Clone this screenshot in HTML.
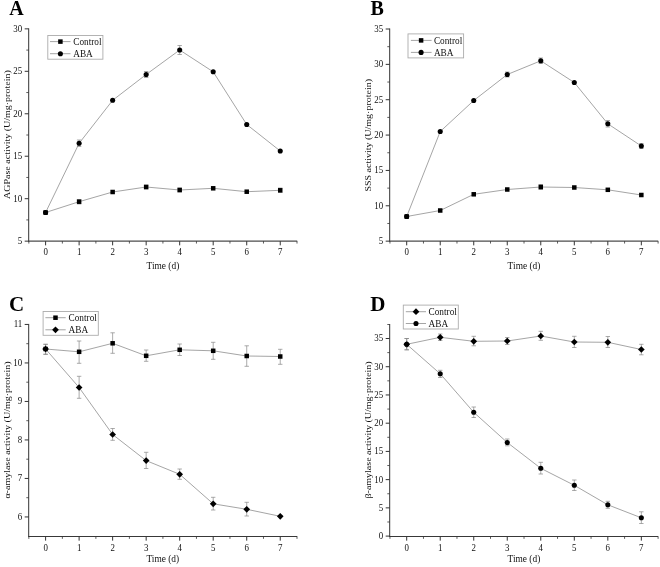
<!DOCTYPE html>
<html lang="en">
<head>
<meta charset="utf-8">
<title>Enzyme activity time courses: Control vs ABA</title>
<style>
html,body{margin:0;padding:0;background:#fff;}
body{width:660px;height:567px;overflow:hidden;}
svg{display:block;font-family:"Liberation Serif", "DejaVu Serif", serif;will-change:transform;filter:grayscale(1);}
</style>
</head>
<body>
<svg width="660" height="567" viewBox="0 0 660 567">
<rect width="660" height="567" fill="#fff"/>
<g stroke="#333333" stroke-width="1" fill="none" shape-rendering="auto">
<line x1="28.7" y1="28.35" x2="28.7" y2="241.65"/>
<line x1="28.2" y1="241.15" x2="297.2" y2="241.15" stroke="#4d4d4d" stroke-width="1.25"/>
<line x1="45.6" y1="241.15" x2="45.6" y2="245.35"/>
<line x1="79.12" y1="241.15" x2="79.12" y2="245.35"/>
<line x1="112.64" y1="241.15" x2="112.64" y2="245.35"/>
<line x1="146.16" y1="241.15" x2="146.16" y2="245.35"/>
<line x1="179.68" y1="241.15" x2="179.68" y2="245.35"/>
<line x1="213.2" y1="241.15" x2="213.2" y2="245.35"/>
<line x1="246.72" y1="241.15" x2="246.72" y2="245.35"/>
<line x1="280.24" y1="241.15" x2="280.24" y2="245.35"/>
<line x1="28.84" y1="241.15" x2="28.84" y2="243.55" stroke-width="0.8"/>
<line x1="62.36" y1="241.15" x2="62.36" y2="243.55" stroke-width="0.8"/>
<line x1="95.88" y1="241.15" x2="95.88" y2="243.55" stroke-width="0.8"/>
<line x1="129.4" y1="241.15" x2="129.4" y2="243.55" stroke-width="0.8"/>
<line x1="162.92" y1="241.15" x2="162.92" y2="243.55" stroke-width="0.8"/>
<line x1="196.44" y1="241.15" x2="196.44" y2="243.55" stroke-width="0.8"/>
<line x1="229.96" y1="241.15" x2="229.96" y2="243.55" stroke-width="0.8"/>
<line x1="263.48" y1="241.15" x2="263.48" y2="243.55" stroke-width="0.8"/>
<line x1="297" y1="241.15" x2="297" y2="243.55" stroke-width="0.8"/>
<line x1="28.7" y1="241.15" x2="24.7" y2="241.15"/>
<line x1="28.7" y1="198.69" x2="24.7" y2="198.69"/>
<line x1="28.7" y1="156.23" x2="24.7" y2="156.23"/>
<line x1="28.7" y1="113.77" x2="24.7" y2="113.77"/>
<line x1="28.7" y1="71.31" x2="24.7" y2="71.31"/>
<line x1="28.7" y1="28.85" x2="24.7" y2="28.85"/>
<line x1="28.7" y1="219.92" x2="26.3" y2="219.92" stroke-width="0.8"/>
<line x1="28.7" y1="177.46" x2="26.3" y2="177.46" stroke-width="0.8"/>
<line x1="28.7" y1="135" x2="26.3" y2="135" stroke-width="0.8"/>
<line x1="28.7" y1="92.54" x2="26.3" y2="92.54" stroke-width="0.8"/>
<line x1="28.7" y1="50.08" x2="26.3" y2="50.08" stroke-width="0.8"/>
</g>
<g font-size="10.1" fill="#111">
<text transform="translate(45.6,255.2) scale(0.88,1)" text-anchor="middle">0</text>
<text transform="translate(79.12,255.2) scale(0.88,1)" text-anchor="middle">1</text>
<text transform="translate(112.64,255.2) scale(0.88,1)" text-anchor="middle">2</text>
<text transform="translate(146.16,255.2) scale(0.88,1)" text-anchor="middle">3</text>
<text transform="translate(179.68,255.2) scale(0.88,1)" text-anchor="middle">4</text>
<text transform="translate(213.2,255.2) scale(0.88,1)" text-anchor="middle">5</text>
<text transform="translate(246.72,255.2) scale(0.88,1)" text-anchor="middle">6</text>
<text transform="translate(280.24,255.2) scale(0.88,1)" text-anchor="middle">7</text>
<text transform="translate(22.2,244.05) scale(0.88,1)" text-anchor="end">5</text>
<text transform="translate(22.2,201.59) scale(0.88,1)" text-anchor="end">10</text>
<text transform="translate(22.2,159.13) scale(0.88,1)" text-anchor="end">15</text>
<text transform="translate(22.2,116.67) scale(0.88,1)" text-anchor="end">20</text>
<text transform="translate(22.2,74.21) scale(0.88,1)" text-anchor="end">25</text>
<text transform="translate(22.2,31.75) scale(0.88,1)" text-anchor="end">30</text>
<text transform="translate(162.9,268.7) scale(0.93,1)" text-anchor="middle">Time (d)</text>
<text transform="translate(9.9,134.6) scale(0.92,1) rotate(-90)" text-anchor="middle" font-size="10">AGPase activity (U/mg·protein)</text>
</g>
<g stroke="#878787" stroke-width="0.7" fill="none">
<path d="M79.12 199.5V204M76.92 199.5H81.32M76.92 204H81.32"/>
<path d="M146.16 185V189M143.96 185H148.36M143.96 189H148.36"/>
<path d="M179.68 188V192M177.48 188H181.88M177.48 192H181.88"/>
<path d="M280.24 188V192.5M278.04 188H282.44M278.04 192.5H282.44"/>
</g>
<polyline fill="none" stroke="#7e7e7e" stroke-width="0.7" points="45.6,212.5 79.12,201.7 112.64,192 146.16,187 179.68,190 213.2,188.3 246.72,191.7 280.24,190.3"/>
<rect x="43.35" y="210.25" width="4.5" height="4.5" fill="#000"/>
<rect x="76.87" y="199.45" width="4.5" height="4.5" fill="#000"/>
<rect x="110.39" y="189.75" width="4.5" height="4.5" fill="#000"/>
<rect x="143.91" y="184.75" width="4.5" height="4.5" fill="#000"/>
<rect x="177.43" y="187.75" width="4.5" height="4.5" fill="#000"/>
<rect x="210.95" y="186.05" width="4.5" height="4.5" fill="#000"/>
<rect x="244.47" y="189.45" width="4.5" height="4.5" fill="#000"/>
<rect x="277.99" y="188.05" width="4.5" height="4.5" fill="#000"/>
<g stroke="#878787" stroke-width="0.7" fill="none">
<path d="M79.12 140V146.5M76.92 140H81.32M76.92 146.5H81.32"/>
<path d="M146.16 71.5V77.5M143.96 71.5H148.36M143.96 77.5H148.36"/>
<path d="M179.68 45.5V54.5M177.48 45.5H181.88M177.48 54.5H181.88"/>
</g>
<polyline fill="none" stroke="#7e7e7e" stroke-width="0.7" points="45.6,212.5 79.12,143.3 112.64,100.3 146.16,74.5 179.68,50 213.2,71.8 246.72,124.5 280.24,151"/>
<circle cx="45.6" cy="212.5" r="2.55" fill="#000"/>
<circle cx="79.12" cy="143.3" r="2.55" fill="#000"/>
<circle cx="112.64" cy="100.3" r="2.55" fill="#000"/>
<circle cx="146.16" cy="74.5" r="2.55" fill="#000"/>
<circle cx="179.68" cy="50" r="2.55" fill="#000"/>
<circle cx="213.2" cy="71.8" r="2.55" fill="#000"/>
<circle cx="246.72" cy="124.5" r="2.55" fill="#000"/>
<circle cx="280.24" cy="151" r="2.55" fill="#000"/>
<rect x="47.8" y="35.5" width="55.1" height="23.7" fill="#fff" stroke="#acacac" stroke-width="0.9"/>
<line x1="50" y1="41.6" x2="70.5" y2="41.6" stroke="#7e7e7e" stroke-width="0.7"/>
<rect x="58.15" y="39.35" width="4.5" height="4.5" fill="#000"/>
<text transform="translate(73.2,45) scale(0.92,1)" text-anchor="start" font-size="10.1" fill="#111">Control</text>
<line x1="50" y1="53.7" x2="70.5" y2="53.7" stroke="#7e7e7e" stroke-width="0.7"/>
<circle cx="60.4" cy="53.7" r="2.55" fill="#000"/>
<text transform="translate(73.2,56.8) scale(0.92,1)" text-anchor="start" font-size="10.1" fill="#111">ABA</text>
<text x="9.3" y="15.2" font-size="20" font-weight="bold" fill="#000">A</text>
<g stroke="#333333" stroke-width="1" fill="none" shape-rendering="auto">
<line x1="389.7" y1="28.5" x2="389.7" y2="241.65"/>
<line x1="389.2" y1="241.15" x2="658.2" y2="241.15" stroke="#4d4d4d" stroke-width="1.25"/>
<line x1="406.7" y1="241.15" x2="406.7" y2="245.35"/>
<line x1="440.22" y1="241.15" x2="440.22" y2="245.35"/>
<line x1="473.74" y1="241.15" x2="473.74" y2="245.35"/>
<line x1="507.26" y1="241.15" x2="507.26" y2="245.35"/>
<line x1="540.78" y1="241.15" x2="540.78" y2="245.35"/>
<line x1="574.3" y1="241.15" x2="574.3" y2="245.35"/>
<line x1="607.82" y1="241.15" x2="607.82" y2="245.35"/>
<line x1="641.34" y1="241.15" x2="641.34" y2="245.35"/>
<line x1="389.94" y1="241.15" x2="389.94" y2="243.55" stroke-width="0.8"/>
<line x1="423.46" y1="241.15" x2="423.46" y2="243.55" stroke-width="0.8"/>
<line x1="456.98" y1="241.15" x2="456.98" y2="243.55" stroke-width="0.8"/>
<line x1="490.5" y1="241.15" x2="490.5" y2="243.55" stroke-width="0.8"/>
<line x1="524.02" y1="241.15" x2="524.02" y2="243.55" stroke-width="0.8"/>
<line x1="557.54" y1="241.15" x2="557.54" y2="243.55" stroke-width="0.8"/>
<line x1="591.06" y1="241.15" x2="591.06" y2="243.55" stroke-width="0.8"/>
<line x1="624.58" y1="241.15" x2="624.58" y2="243.55" stroke-width="0.8"/>
<line x1="658.1" y1="241.15" x2="658.1" y2="243.55" stroke-width="0.8"/>
<line x1="389.7" y1="241.15" x2="385.7" y2="241.15"/>
<line x1="389.7" y1="205.79" x2="385.7" y2="205.79"/>
<line x1="389.7" y1="170.43" x2="385.7" y2="170.43"/>
<line x1="389.7" y1="135.07" x2="385.7" y2="135.07"/>
<line x1="389.7" y1="99.72" x2="385.7" y2="99.72"/>
<line x1="389.7" y1="64.36" x2="385.7" y2="64.36"/>
<line x1="389.7" y1="29" x2="385.7" y2="29"/>
<line x1="389.7" y1="223.47" x2="387.3" y2="223.47" stroke-width="0.8"/>
<line x1="389.7" y1="188.11" x2="387.3" y2="188.11" stroke-width="0.8"/>
<line x1="389.7" y1="152.75" x2="387.3" y2="152.75" stroke-width="0.8"/>
<line x1="389.7" y1="117.4" x2="387.3" y2="117.4" stroke-width="0.8"/>
<line x1="389.7" y1="82.04" x2="387.3" y2="82.04" stroke-width="0.8"/>
<line x1="389.7" y1="46.68" x2="387.3" y2="46.68" stroke-width="0.8"/>
</g>
<g font-size="10.1" fill="#111">
<text transform="translate(406.7,255.2) scale(0.88,1)" text-anchor="middle">0</text>
<text transform="translate(440.22,255.2) scale(0.88,1)" text-anchor="middle">1</text>
<text transform="translate(473.74,255.2) scale(0.88,1)" text-anchor="middle">2</text>
<text transform="translate(507.26,255.2) scale(0.88,1)" text-anchor="middle">3</text>
<text transform="translate(540.78,255.2) scale(0.88,1)" text-anchor="middle">4</text>
<text transform="translate(574.3,255.2) scale(0.88,1)" text-anchor="middle">5</text>
<text transform="translate(607.82,255.2) scale(0.88,1)" text-anchor="middle">6</text>
<text transform="translate(641.34,255.2) scale(0.88,1)" text-anchor="middle">7</text>
<text transform="translate(383.2,244.05) scale(0.88,1)" text-anchor="end">5</text>
<text transform="translate(383.2,208.69) scale(0.88,1)" text-anchor="end">10</text>
<text transform="translate(383.2,173.33) scale(0.88,1)" text-anchor="end">15</text>
<text transform="translate(383.2,137.97) scale(0.88,1)" text-anchor="end">20</text>
<text transform="translate(383.2,102.62) scale(0.88,1)" text-anchor="end">25</text>
<text transform="translate(383.2,67.26) scale(0.88,1)" text-anchor="end">30</text>
<text transform="translate(383.2,31.9) scale(0.88,1)" text-anchor="end">35</text>
<text transform="translate(524,268.7) scale(0.93,1)" text-anchor="middle">Time (d)</text>
<text transform="translate(371.2,135.3) scale(0.92,1) rotate(-90)" text-anchor="middle" font-size="10">SSS activity (U/mg·protein)</text>
</g>
<g stroke="#878787" stroke-width="0.7" fill="none">
<path d="M540.78 184.5V189.5M538.58 184.5H542.98M538.58 189.5H542.98"/>
</g>
<polyline fill="none" stroke="#7e7e7e" stroke-width="0.7" points="406.7,216.5 440.22,210.5 473.74,194.3 507.26,189.5 540.78,187 574.3,187.5 607.82,189.8 641.34,195"/>
<rect x="404.45" y="214.25" width="4.5" height="4.5" fill="#000"/>
<rect x="437.97" y="208.25" width="4.5" height="4.5" fill="#000"/>
<rect x="471.49" y="192.05" width="4.5" height="4.5" fill="#000"/>
<rect x="505.01" y="187.25" width="4.5" height="4.5" fill="#000"/>
<rect x="538.53" y="184.75" width="4.5" height="4.5" fill="#000"/>
<rect x="572.05" y="185.25" width="4.5" height="4.5" fill="#000"/>
<rect x="605.57" y="187.55" width="4.5" height="4.5" fill="#000"/>
<rect x="639.09" y="192.75" width="4.5" height="4.5" fill="#000"/>
<g stroke="#878787" stroke-width="0.7" fill="none">
<path d="M507.26 72V77M505.06 72H509.46M505.06 77H509.46"/>
<path d="M540.78 58V63.5M538.58 58H542.98M538.58 63.5H542.98"/>
<path d="M607.82 120.5V127M605.62 120.5H610.02M605.62 127H610.02"/>
<path d="M641.34 143.5V148.5M639.14 143.5H643.54M639.14 148.5H643.54"/>
</g>
<polyline fill="none" stroke="#7e7e7e" stroke-width="0.7" points="406.7,216.5 440.22,131.5 473.74,100.5 507.26,74.5 540.78,60.8 574.3,82.5 607.82,123.8 641.34,146"/>
<circle cx="406.7" cy="216.5" r="2.55" fill="#000"/>
<circle cx="440.22" cy="131.5" r="2.55" fill="#000"/>
<circle cx="473.74" cy="100.5" r="2.55" fill="#000"/>
<circle cx="507.26" cy="74.5" r="2.55" fill="#000"/>
<circle cx="540.78" cy="60.8" r="2.55" fill="#000"/>
<circle cx="574.3" cy="82.5" r="2.55" fill="#000"/>
<circle cx="607.82" cy="123.8" r="2.55" fill="#000"/>
<circle cx="641.34" cy="146" r="2.55" fill="#000"/>
<rect x="408" y="33.9" width="55.6" height="24" fill="#fff" stroke="#acacac" stroke-width="0.9"/>
<line x1="410.9" y1="40.4" x2="431.6" y2="40.4" stroke="#7e7e7e" stroke-width="0.7"/>
<rect x="418.85" y="38.15" width="4.5" height="4.5" fill="#000"/>
<text transform="translate(433.9,43.9) scale(0.92,1)" text-anchor="start" font-size="10.1" fill="#111">Control</text>
<line x1="410.9" y1="52.4" x2="431.6" y2="52.4" stroke="#7e7e7e" stroke-width="0.7"/>
<circle cx="421.1" cy="52.4" r="2.55" fill="#000"/>
<text transform="translate(433.9,55.7) scale(0.92,1)" text-anchor="start" font-size="10.1" fill="#111">ABA</text>
<text x="370.6" y="15.2" font-size="20" font-weight="bold" fill="#000">B</text>
<g stroke="#333333" stroke-width="1" fill="none" shape-rendering="auto">
<line x1="28.7" y1="323.95" x2="28.7" y2="536.95"/>
<line x1="28.2" y1="536.45" x2="297.2" y2="536.45" stroke="#383838" stroke-width="1.05"/>
<line x1="45.6" y1="536.45" x2="45.6" y2="540.65"/>
<line x1="79.12" y1="536.45" x2="79.12" y2="540.65"/>
<line x1="112.64" y1="536.45" x2="112.64" y2="540.65"/>
<line x1="146.16" y1="536.45" x2="146.16" y2="540.65"/>
<line x1="179.68" y1="536.45" x2="179.68" y2="540.65"/>
<line x1="213.2" y1="536.45" x2="213.2" y2="540.65"/>
<line x1="246.72" y1="536.45" x2="246.72" y2="540.65"/>
<line x1="280.24" y1="536.45" x2="280.24" y2="540.65"/>
<line x1="28.84" y1="536.45" x2="28.84" y2="538.85" stroke-width="0.8"/>
<line x1="62.36" y1="536.45" x2="62.36" y2="538.85" stroke-width="0.8"/>
<line x1="95.88" y1="536.45" x2="95.88" y2="538.85" stroke-width="0.8"/>
<line x1="129.4" y1="536.45" x2="129.4" y2="538.85" stroke-width="0.8"/>
<line x1="162.92" y1="536.45" x2="162.92" y2="538.85" stroke-width="0.8"/>
<line x1="196.44" y1="536.45" x2="196.44" y2="538.85" stroke-width="0.8"/>
<line x1="229.96" y1="536.45" x2="229.96" y2="538.85" stroke-width="0.8"/>
<line x1="263.48" y1="536.45" x2="263.48" y2="538.85" stroke-width="0.8"/>
<line x1="297" y1="536.45" x2="297" y2="538.85" stroke-width="0.8"/>
<line x1="28.7" y1="516.95" x2="24.7" y2="516.95"/>
<line x1="28.7" y1="478.45" x2="24.7" y2="478.45"/>
<line x1="28.7" y1="439.95" x2="24.7" y2="439.95"/>
<line x1="28.7" y1="401.45" x2="24.7" y2="401.45"/>
<line x1="28.7" y1="362.95" x2="24.7" y2="362.95"/>
<line x1="28.7" y1="324.45" x2="24.7" y2="324.45"/>
<line x1="28.7" y1="497.7" x2="26.3" y2="497.7" stroke-width="0.8"/>
<line x1="28.7" y1="459.2" x2="26.3" y2="459.2" stroke-width="0.8"/>
<line x1="28.7" y1="420.7" x2="26.3" y2="420.7" stroke-width="0.8"/>
<line x1="28.7" y1="382.2" x2="26.3" y2="382.2" stroke-width="0.8"/>
<line x1="28.7" y1="343.7" x2="26.3" y2="343.7" stroke-width="0.8"/>
</g>
<g font-size="10.1" fill="#111">
<text transform="translate(45.6,550.7) scale(0.88,1)" text-anchor="middle">0</text>
<text transform="translate(79.12,550.7) scale(0.88,1)" text-anchor="middle">1</text>
<text transform="translate(112.64,550.7) scale(0.88,1)" text-anchor="middle">2</text>
<text transform="translate(146.16,550.7) scale(0.88,1)" text-anchor="middle">3</text>
<text transform="translate(179.68,550.7) scale(0.88,1)" text-anchor="middle">4</text>
<text transform="translate(213.2,550.7) scale(0.88,1)" text-anchor="middle">5</text>
<text transform="translate(246.72,550.7) scale(0.88,1)" text-anchor="middle">6</text>
<text transform="translate(280.24,550.7) scale(0.88,1)" text-anchor="middle">7</text>
<text transform="translate(22.2,519.85) scale(0.88,1)" text-anchor="end">6</text>
<text transform="translate(22.2,481.35) scale(0.88,1)" text-anchor="end">7</text>
<text transform="translate(22.2,442.85) scale(0.88,1)" text-anchor="end">8</text>
<text transform="translate(22.2,404.35) scale(0.88,1)" text-anchor="end">9</text>
<text transform="translate(22.2,365.85) scale(0.88,1)" text-anchor="end">10</text>
<text transform="translate(22.2,327.35) scale(0.88,1)" text-anchor="end">11</text>
<text transform="translate(162.8,562.2) scale(0.93,1)" text-anchor="middle">Time (d)</text>
<text transform="translate(9.9,430) scale(0.92,1) rotate(-90)" text-anchor="middle" font-size="10">α-amylase activity (U/mg·protein)</text>
</g>
<g stroke="#878787" stroke-width="0.7" fill="none">
<path d="M45.6 344.3V354.3M43.4 344.3H47.8M43.4 354.3H47.8"/>
<path d="M79.12 341V363.3M76.92 341H81.32M76.92 363.3H81.32"/>
<path d="M112.64 332.8V353.3M110.44 332.8H114.84M110.44 353.3H114.84"/>
<path d="M146.16 350V361.3M143.96 350H148.36M143.96 361.3H148.36"/>
<path d="M179.68 344V355.5M177.48 344H181.88M177.48 355.5H181.88"/>
<path d="M213.2 342.3V359.3M211 342.3H215.4M211 359.3H215.4"/>
<path d="M246.72 345.8V366.3M244.52 345.8H248.92M244.52 366.3H248.92"/>
<path d="M280.24 349.3V364.3M278.04 349.3H282.44M278.04 364.3H282.44"/>
</g>
<polyline fill="none" stroke="#7e7e7e" stroke-width="0.7" points="45.6,349 79.12,351.8 112.64,343.3 146.16,355.8 179.68,349.8 213.2,350.8 246.72,356 280.24,356.5"/>
<rect x="43.35" y="346.75" width="4.5" height="4.5" fill="#000"/>
<rect x="76.87" y="349.55" width="4.5" height="4.5" fill="#000"/>
<rect x="110.39" y="341.05" width="4.5" height="4.5" fill="#000"/>
<rect x="143.91" y="353.55" width="4.5" height="4.5" fill="#000"/>
<rect x="177.43" y="347.55" width="4.5" height="4.5" fill="#000"/>
<rect x="210.95" y="348.55" width="4.5" height="4.5" fill="#000"/>
<rect x="244.47" y="353.75" width="4.5" height="4.5" fill="#000"/>
<rect x="277.99" y="354.25" width="4.5" height="4.5" fill="#000"/>
<g stroke="#878787" stroke-width="0.7" fill="none">
<path d="M45.6 344.3V354.3M43.4 344.3H47.8M43.4 354.3H47.8"/>
<path d="M79.12 376.3V398.3M76.92 376.3H81.32M76.92 398.3H81.32"/>
<path d="M112.64 428.5V440.3M110.44 428.5H114.84M110.44 440.3H114.84"/>
<path d="M146.16 452.3V468.5M143.96 452.3H148.36M143.96 468.5H148.36"/>
<path d="M179.68 469V479.3M177.48 469H181.88M177.48 479.3H181.88"/>
<path d="M213.2 497.3V510M211 497.3H215.4M211 510H215.4"/>
<path d="M246.72 502.3V516M244.52 502.3H248.92M244.52 516H248.92"/>
</g>
<polyline fill="none" stroke="#7e7e7e" stroke-width="0.7" points="45.6,349 79.12,387.5 112.64,434.5 146.16,460.6 179.68,474.3 213.2,503.8 246.72,509.3 280.24,516.3"/>
<polygon points="45.6,345.65 48.95,349 45.6,352.35 42.25,349" fill="#000"/>
<polygon points="79.12,384.15 82.47,387.5 79.12,390.85 75.77,387.5" fill="#000"/>
<polygon points="112.64,431.15 115.99,434.5 112.64,437.85 109.29,434.5" fill="#000"/>
<polygon points="146.16,457.25 149.51,460.6 146.16,463.95 142.81,460.6" fill="#000"/>
<polygon points="179.68,470.95 183.03,474.3 179.68,477.65 176.33,474.3" fill="#000"/>
<polygon points="213.2,500.45 216.55,503.8 213.2,507.15 209.85,503.8" fill="#000"/>
<polygon points="246.72,505.95 250.07,509.3 246.72,512.65 243.37,509.3" fill="#000"/>
<polygon points="280.24,512.95 283.59,516.3 280.24,519.65 276.89,516.3" fill="#000"/>
<rect x="43.1" y="311.5" width="55.2" height="23.8" fill="#fff" stroke="#acacac" stroke-width="0.9"/>
<line x1="45.4" y1="317.7" x2="65.7" y2="317.7" stroke="#7e7e7e" stroke-width="0.7"/>
<rect x="53.25" y="315.45" width="4.5" height="4.5" fill="#000"/>
<text transform="translate(68.5,321.1) scale(0.92,1)" text-anchor="start" font-size="10.1" fill="#111">Control</text>
<line x1="45.4" y1="329.8" x2="65.7" y2="329.8" stroke="#7e7e7e" stroke-width="0.7"/>
<polygon points="55.5,326.45 58.85,329.8 55.5,333.15 52.15,329.8" fill="#000"/>
<text transform="translate(68.5,333.3) scale(0.92,1)" text-anchor="start" font-size="10.1" fill="#111">ABA</text>
<text x="9.1" y="311" font-size="21" font-weight="bold" fill="#000">C</text>
<g stroke="#333333" stroke-width="1" fill="none" shape-rendering="auto">
<line x1="389.7" y1="324" x2="389.7" y2="536.95"/>
<line x1="389.2" y1="536.45" x2="658.2" y2="536.45" stroke="#383838" stroke-width="1.05"/>
<line x1="406.7" y1="536.45" x2="406.7" y2="540.65"/>
<line x1="440.22" y1="536.45" x2="440.22" y2="540.65"/>
<line x1="473.74" y1="536.45" x2="473.74" y2="540.65"/>
<line x1="507.26" y1="536.45" x2="507.26" y2="540.65"/>
<line x1="540.78" y1="536.45" x2="540.78" y2="540.65"/>
<line x1="574.3" y1="536.45" x2="574.3" y2="540.65"/>
<line x1="607.82" y1="536.45" x2="607.82" y2="540.65"/>
<line x1="641.34" y1="536.45" x2="641.34" y2="540.65"/>
<line x1="389.94" y1="536.45" x2="389.94" y2="538.85" stroke-width="0.8"/>
<line x1="423.46" y1="536.45" x2="423.46" y2="538.85" stroke-width="0.8"/>
<line x1="456.98" y1="536.45" x2="456.98" y2="538.85" stroke-width="0.8"/>
<line x1="490.5" y1="536.45" x2="490.5" y2="538.85" stroke-width="0.8"/>
<line x1="524.02" y1="536.45" x2="524.02" y2="538.85" stroke-width="0.8"/>
<line x1="557.54" y1="536.45" x2="557.54" y2="538.85" stroke-width="0.8"/>
<line x1="591.06" y1="536.45" x2="591.06" y2="538.85" stroke-width="0.8"/>
<line x1="624.58" y1="536.45" x2="624.58" y2="538.85" stroke-width="0.8"/>
<line x1="658.1" y1="536.45" x2="658.1" y2="538.85" stroke-width="0.8"/>
<line x1="389.7" y1="536.1" x2="385.7" y2="536.1"/>
<line x1="389.7" y1="507.87" x2="385.7" y2="507.87"/>
<line x1="389.7" y1="479.64" x2="385.7" y2="479.64"/>
<line x1="389.7" y1="451.41" x2="385.7" y2="451.41"/>
<line x1="389.7" y1="423.19" x2="385.7" y2="423.19"/>
<line x1="389.7" y1="394.96" x2="385.7" y2="394.96"/>
<line x1="389.7" y1="366.73" x2="385.7" y2="366.73"/>
<line x1="389.7" y1="338.5" x2="385.7" y2="338.5"/>
<line x1="389.7" y1="521.99" x2="387.3" y2="521.99" stroke-width="0.8"/>
<line x1="389.7" y1="493.76" x2="387.3" y2="493.76" stroke-width="0.8"/>
<line x1="389.7" y1="465.53" x2="387.3" y2="465.53" stroke-width="0.8"/>
<line x1="389.7" y1="437.3" x2="387.3" y2="437.3" stroke-width="0.8"/>
<line x1="389.7" y1="409.07" x2="387.3" y2="409.07" stroke-width="0.8"/>
<line x1="389.7" y1="380.84" x2="387.3" y2="380.84" stroke-width="0.8"/>
<line x1="389.7" y1="352.61" x2="387.3" y2="352.61" stroke-width="0.8"/>
<line x1="389.7" y1="324.5" x2="387.3" y2="324.5" stroke-width="0.8"/>
</g>
<g font-size="10.1" fill="#111">
<text transform="translate(406.7,550.7) scale(0.88,1)" text-anchor="middle">0</text>
<text transform="translate(440.22,550.7) scale(0.88,1)" text-anchor="middle">1</text>
<text transform="translate(473.74,550.7) scale(0.88,1)" text-anchor="middle">2</text>
<text transform="translate(507.26,550.7) scale(0.88,1)" text-anchor="middle">3</text>
<text transform="translate(540.78,550.7) scale(0.88,1)" text-anchor="middle">4</text>
<text transform="translate(574.3,550.7) scale(0.88,1)" text-anchor="middle">5</text>
<text transform="translate(607.82,550.7) scale(0.88,1)" text-anchor="middle">6</text>
<text transform="translate(641.34,550.7) scale(0.88,1)" text-anchor="middle">7</text>
<text transform="translate(383.2,539) scale(0.88,1)" text-anchor="end">0</text>
<text transform="translate(383.2,510.77) scale(0.88,1)" text-anchor="end">5</text>
<text transform="translate(383.2,482.54) scale(0.88,1)" text-anchor="end">10</text>
<text transform="translate(383.2,454.31) scale(0.88,1)" text-anchor="end">15</text>
<text transform="translate(383.2,426.09) scale(0.88,1)" text-anchor="end">20</text>
<text transform="translate(383.2,397.86) scale(0.88,1)" text-anchor="end">25</text>
<text transform="translate(383.2,369.63) scale(0.88,1)" text-anchor="end">30</text>
<text transform="translate(383.2,341.4) scale(0.88,1)" text-anchor="end">35</text>
<text transform="translate(523.9,562.2) scale(0.93,1)" text-anchor="middle">Time (d)</text>
<text transform="translate(371.4,430) scale(0.92,1) rotate(-90)" text-anchor="middle" font-size="10">β-amylase activity (U/mg·protein)</text>
</g>
<g stroke="#878787" stroke-width="0.7" fill="none">
<path d="M406.7 338.5V349.8M404.5 338.5H408.9M404.5 349.8H408.9"/>
<path d="M440.22 334V340.5M438.02 334H442.42M438.02 340.5H442.42"/>
<path d="M473.74 336.3V345.8M471.54 336.3H475.94M471.54 345.8H475.94"/>
<path d="M507.26 337.5V344.5M505.06 337.5H509.46M505.06 344.5H509.46"/>
<path d="M540.78 331.3V340.3M538.58 331.3H542.98M538.58 340.3H542.98"/>
<path d="M574.3 336.3V347.5M572.1 336.3H576.5M572.1 347.5H576.5"/>
<path d="M607.82 336.5V347.5M605.62 336.5H610.02M605.62 347.5H610.02"/>
<path d="M641.34 344.3V354.8M639.14 344.3H643.54M639.14 354.8H643.54"/>
</g>
<polyline fill="none" stroke="#7e7e7e" stroke-width="0.7" points="406.7,344.3 440.22,337.3 473.74,341.3 507.26,341 540.78,336 574.3,342 607.82,342.3 641.34,349.5"/>
<polygon points="406.7,340.95 410.05,344.3 406.7,347.65 403.35,344.3" fill="#000"/>
<polygon points="440.22,333.95 443.57,337.3 440.22,340.65 436.87,337.3" fill="#000"/>
<polygon points="473.74,337.95 477.09,341.3 473.74,344.65 470.39,341.3" fill="#000"/>
<polygon points="507.26,337.65 510.61,341 507.26,344.35 503.91,341" fill="#000"/>
<polygon points="540.78,332.65 544.13,336 540.78,339.35 537.43,336" fill="#000"/>
<polygon points="574.3,338.65 577.65,342 574.3,345.35 570.95,342" fill="#000"/>
<polygon points="607.82,338.95 611.17,342.3 607.82,345.65 604.47,342.3" fill="#000"/>
<polygon points="641.34,346.15 644.69,349.5 641.34,352.85 637.99,349.5" fill="#000"/>
<g stroke="#878787" stroke-width="0.7" fill="none">
<path d="M406.7 338.5V349.8M404.5 338.5H408.9M404.5 349.8H408.9"/>
<path d="M440.22 370.3V377.5M438.02 370.3H442.42M438.02 377.5H442.42"/>
<path d="M473.74 407V417.5M471.54 407H475.94M471.54 417.5H475.94"/>
<path d="M507.26 439V445.8M505.06 439H509.46M505.06 445.8H509.46"/>
<path d="M540.78 462.3V474M538.58 462.3H542.98M538.58 474H542.98"/>
<path d="M574.3 480V490.5M572.1 480H576.5M572.1 490.5H576.5"/>
<path d="M607.82 501.3V508.3M605.62 501.3H610.02M605.62 508.3H610.02"/>
<path d="M641.34 511.8V523.5M639.14 511.8H643.54M639.14 523.5H643.54"/>
</g>
<polyline fill="none" stroke="#7e7e7e" stroke-width="0.7" points="406.7,344.3 440.22,373.8 473.74,412.3 507.26,442.5 540.78,468.3 574.3,485.3 607.82,504.8 641.34,517.8"/>
<circle cx="406.7" cy="344.3" r="2.55" fill="#000"/>
<circle cx="440.22" cy="373.8" r="2.55" fill="#000"/>
<circle cx="473.74" cy="412.3" r="2.55" fill="#000"/>
<circle cx="507.26" cy="442.5" r="2.55" fill="#000"/>
<circle cx="540.78" cy="468.3" r="2.55" fill="#000"/>
<circle cx="574.3" cy="485.3" r="2.55" fill="#000"/>
<circle cx="607.82" cy="504.8" r="2.55" fill="#000"/>
<circle cx="641.34" cy="517.8" r="2.55" fill="#000"/>
<rect x="403.3" y="305.1" width="55" height="23.9" fill="#fff" stroke="#acacac" stroke-width="0.9"/>
<line x1="405.8" y1="311.7" x2="426" y2="311.7" stroke="#7e7e7e" stroke-width="0.7"/>
<polygon points="416,308.35 419.35,311.7 416,315.05 412.65,311.7" fill="#000"/>
<text transform="translate(428.5,315.1) scale(0.92,1)" text-anchor="start" font-size="10.1" fill="#111">Control</text>
<line x1="405.8" y1="323.5" x2="426" y2="323.5" stroke="#7e7e7e" stroke-width="0.7"/>
<circle cx="416" cy="323.5" r="2.55" fill="#000"/>
<text transform="translate(428.5,326.9) scale(0.92,1)" text-anchor="start" font-size="10.1" fill="#111">ABA</text>
<text x="370.3" y="310.6" font-size="21" font-weight="bold" fill="#000">D</text>
</svg>
</body>
</html>
